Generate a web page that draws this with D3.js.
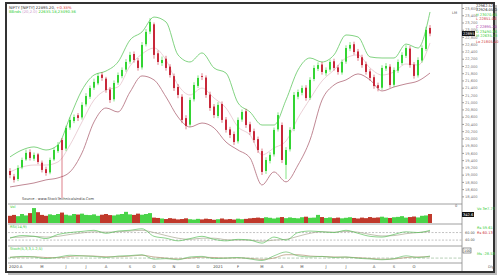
<!DOCTYPE html>
<html>
<head>
<meta charset="utf-8">
<script src="https://cdn.jsdelivr.net/npm/d3@7"></script>
<style>
body { margin: 0; background: #fff; }
text { font-family: "DejaVu Sans", sans-serif; }
</style>
</head>
<body>
<script>
// daily candles (price)
const opens = [19100,18950,18880,19200,19420,19620,19440,19560,19330,19150,
  19060,19420,19650,19955,19720,20300,20480,20640,20580,20940,
  21150,21400,21520,21760,21650,21350,21080,21540,21720,21900,
  22120,22330,22150,21960,22600,22950,23150,22350,22080,22200,
  21980,21720,21420,21150,20560,20380,21080,21450,21720,21680,
  21210,20880,20620,20950,20520,20250,20120,19920,20520,20750,
  20390,20200,19980,19650,19100,19380,19560,20250,20370,19270,
  19700,20260,21150,21260,21400,21120,21640,21920,22040,21800,
  21900,22130,21960,21820,22120,22480,22600,22400,22240,22050,
  21850,21690,21470,21400,21930,21980,21480,21870,22080,22280,
  22480,22040,21740,22150,22470,23050];
const highs = [19180,19020,19260,19470,19690,19700,19610,19600,19390,19220,
  19470,19740,19900,20010,20350,20580,20660,20700,21000,21250,
  21460,21650,21800,21830,21700,21420,21600,21820,21960,22190,
  22390,22400,22220,22660,23020,23320,23200,22430,22260,22280,
  22050,21790,21500,21220,20640,21130,21550,21740,21800,21740,
  21290,20950,21000,21020,20590,20320,20190,20580,20800,20820,
  20460,20270,20050,19720,19480,19620,20300,20720,20440,19760,
  20310,21280,21350,21460,21470,21690,22020,22100,22110,21960,
  22180,22200,22030,22180,22570,22660,22670,22470,22310,22120,
  21920,21760,21540,22020,22080,22050,21960,22180,22380,22570,
  22550,22110,22240,22570,23080,23130];
const lows = [18900,18780,18820,19150,19380,19390,19380,19290,19060,18970,
  19010,19380,19600,18355,19650,20240,20420,20480,20520,20880,
  21090,21340,21470,21590,21260,20980,21020,21480,21660,21840,
  22060,22090,21870,21900,22540,22880,22200,22030,22000,21870,
  21680,21310,21110,20420,20250,20320,21020,21390,21610,21120,
  20760,20560,20560,20430,20160,20010,19820,19860,20460,20290,
  20100,19880,19600,18990,19020,19310,19500,20190,19320,18880,
  19640,20200,21080,21190,21040,21060,21580,21860,21760,21730,
  21840,21870,21760,21760,22060,22410,22310,22140,21950,21760,
  21590,21370,21300,21340,21860,21400,21420,21810,22020,22220,
  21950,21650,21680,22090,22410,22820];
const closes = [18990,18855,19185,19405,19600,19460,19545,19350,19130,19045,
  19405,19680,19820,19680,20290,20510,20590,20565,20925,21170,
  21390,21560,21725,21670,21335,21060,21530,21750,21890,22110,
  22305,22165,21945,22580,22940,23215,22305,22110,22165,21945,
  21750,21390,21200,20510,20345,21060,21475,21670,21695,21200,
  20840,20645,20925,20510,20235,20095,19900,20510,20730,20370,
  20180,19955,19680,19075,19405,19545,20235,20645,19405,19680,
  20235,21200,21280,21390,21115,21615,21945,22025,21835,21890,
  22110,21945,21835,22110,22495,22580,22385,22220,22025,21835,
  21670,21445,21390,21945,22000,21475,21890,22110,22305,22495,
  22025,21725,22165,22495,22995,22895];
const volumes = [40,45,38,50,42,55,83,60,45,40,48,44,50,58,46,42,50,47,52,45,
  44,48,40,46,50,44,42,47,50,62,48,45,52,46,50,55,
  30,28,25,22,27,24,20,22,26,21,19,23,20,24,22,18,21,25,20,22,19,24,21,23,
  26,28,30,27,32,29,25,30,33,27,31,28,26,32,35,29,30,45,33,28,
  31,27,30,26,29,32,28,25,30,27,33,29,31,35,30,28,32,34,38,30,33,36,31,40,42,50];

// indicators, read every third candle
const upperBand = [19490,19680,19765,19680,19820,20590,21335,21750,21860,22110,
  22715,22940,23350,23215,22305,22110,22360,21945,21805,20980,
  20730,20370,20370,21060,21890,22220,22110,22305,22855,22800,
  22250,22220,22220,22605,22495,23490];
const midBand = [19075,19210,19265,19265,19350,19820,20455,21060,21335,21420,
  22000,22330,22495,22165,21475,21200,21390,21115,20840,20315,
  20095,19545,19735,19930,20565,21090,21585,21890,22220,22305,
  21945,21750,21835,22055,22025,22635];
const lowerBand = [18660,18715,18770,18855,18910,19075,19600,20455,20840,20730,
  21280,21725,21615,21145,20590,20315,20425,20290,19900,19680,
  19460,18715,19075,18800,19265,19955,21060,21475,21615,21780,
  21615,21310,21420,21505,21585,21805];
const rsi = [45,52,50,44,55,60,63,66,58,64,66,70,50,45,38,44,50,42,38,42,
  40,32,48,40,60,64,62,60,66,58,50,48,55,62,60,66];
const rsiSignal = [47,48,50,48,50,55,59,62,61,62,64,66,60,52,45,42,45,45,41,40,
  40,37,40,42,50,58,62,61,63,61,55,51,52,57,60,63];
const osc = [5,15,10,-5,8,25,20,15,5,18,22,30,-10,-5,-15,10,15,-5,0,5,
  -8,-22,20,55,20,10,15,5,10,-2,-8,-15,-5,20,5,18];
const oscSignal = [8,10,12,5,3,15,20,18,12,12,18,25,10,0,-8,0,8,5,0,2,
  -2,-12,0,30,30,18,14,10,8,4,-3,-10,-8,5,10,12];

const priceTicks = [18400,18600,18800,19000,19200,19400,19600,19800,20000,20200,
  20400,20600,20800,21000,21200,21400,21600,21800,22000,22200,
  22400,22600,22800,23000,23200,23400,23600];
const monthLabels = ["2020 A","M","J","J","A","S","O","N","D","2021","F","M","A","M","J","J","A","S","O"];
const monthIdx = [0,8,14,19,24,30,36,41,47,52,57,63,68,73,79,84,91,96,101];

const legendLines = [
  ["22962.52", "#222"], ["22926.05 O", "#222"], ["H 23070.05", "#3c3"],
  ["L 22851.06", "#c33"], ["C 22895.20", "#a3a"], ["U 23490.36", "#3c3"],
  ["M 22635.18", "#3c3"], ["Lo 21805.40", "#c33"]
];

const W = 500, H = 280;
const plotL = 8, plotR = 462;
const mainBot = 204, volBot = 224, rsiBot = 246, oscBot = 263;
const N = closes.length;
const green = "#33d433", red = "#c8283a";

const svg = d3.select("body").append("svg")
  .attr("width", W)
  .attr("height", H);

// frame with shadow
svg.append("rect").attr("x", 8).attr("y", 5).attr("width", 489).attr("height", 270)
  .attr("fill", "#bbb");
svg.append("rect").attr("x", 6).attr("y", 3).attr("width", 488).attr("height", 269)
  .attr("fill", "#fff").attr("stroke", "#333").attr("stroke-width", 2);

// scales
const x = d3.scaleBand().domain(d3.range(N)).range([plotL, plotL + N * 4]);
const cx = i => x(i) + x.bandwidth() / 2;
const y = d3.scaleLinear().domain([18300, 23600]).range([200, 8]);
const yVol = d3.scaleLinear().domain([0, 100]).range([223, 205]);
const yRsi = d3.scaleLinear().domain([27, 80]).range([245, 225]);
const yOsc = d3.scaleLinear().domain([-35, 90]).range([262, 248]);
const sIdx = d3.range(0, N, 3);

// panel separators and right axis
[mainBot, volBot, rsiBot, oscBot].forEach(v => {
  svg.append("line").attr("x1", plotL).attr("x2", plotR).attr("y1", v).attr("y2", v)
    .attr("stroke", "#888").attr("stroke-width", 0.8);
});
svg.append("line").attr("x1", plotR).attr("x2", plotR).attr("y1", 4).attr("y2", 271)
  .attr("stroke", "#888").attr("stroke-width", 0.8);

// price axis
const yAxis = svg.append("g").attr("transform", `translate(${plotR},0)`)
  .call(d3.axisRight(y).tickValues(priceTicks).tickSize(2).tickPadding(1));
yAxis.select(".domain").remove();
yAxis.selectAll("line").attr("stroke", "#999");
yAxis.selectAll("text").attr("font-size", 3.6).attr("fill", "#777");

// bands
const bandLine = data => d3.line()
  .x((d, k) => cx(sIdx[k]))
  .y(d => y(d))
  .curve(d3.curveMonotoneX)(data);
svg.append("path").attr("d", bandLine(midBand)).attr("fill", "none")
  .attr("stroke", "#e4c4cb").attr("stroke-width", 0.8);
svg.append("path").attr("d", bandLine(upperBand)).attr("fill", "none")
  .attr("stroke", "#62c862").attr("stroke-width", 0.8);
svg.append("path").attr("d", bandLine(lowerBand)).attr("fill", "none")
  .attr("stroke", "#b06a78").attr("stroke-width", 0.8);

// candles
const candles = svg.append("g").selectAll("g")
  .data(d3.range(N))
  .enter().append("g");
candles.append("line")
  .attr("x1", i => cx(i)).attr("x2", i => cx(i))
  .attr("y1", i => y(highs[i])).attr("y2", i => y(lows[i]))
  .attr("stroke", i => closes[i] >= opens[i] ? green : red)
  .attr("stroke-width", 0.6);
candles.append("rect")
  .attr("x", i => cx(i) - 1)
  .attr("width", 2)
  .attr("y", i => y(Math.max(opens[i], closes[i])))
  .attr("height", i => Math.max(0.8, Math.abs(y(opens[i]) - y(closes[i]))))
  .attr("fill", i => closes[i] >= opens[i] ? green : red);

// volume
svg.append("g").selectAll("rect")
  .data(volumes)
  .enter().append("rect")
  .attr("x", (d, i) => x(i))
  .attr("width", x.bandwidth())
  .attr("y", d => yVol(d))
  .attr("height", d => yVol(0) - yVol(d))
  .attr("fill", (d, i) => closes[i] >= opens[i] ? "#49d449" : "#c0392b");

// rsi
[60, 40].forEach(v => {
  svg.append("line").attr("x1", plotL).attr("x2", plotR).attr("y1", yRsi(v)).attr("y2", yRsi(v))
    .attr("stroke", "#999").attr("stroke-width", 0.6).attr("stroke-dasharray", "2,1.5");
});
const ind = (data, sc) => d3.line()
  .x((d, k) => cx(sIdx[k]))
  .y(d => sc(d))
  .curve(d3.curveMonotoneX)(data);
svg.append("path").attr("d", ind(rsiSignal, yRsi)).attr("fill", "none")
  .attr("stroke", "#a8a890").attr("stroke-width", 0.7);
svg.append("path").attr("d", ind(rsi, yRsi)).attr("fill", "none")
  .attr("stroke", "#5cc05c").attr("stroke-width", 0.7);

// oscillator
svg.append("line").attr("x1", plotL).attr("x2", plotR).attr("y1", yOsc(0)).attr("y2", yOsc(0))
  .attr("stroke", "#8ab08a").attr("stroke-width", 0.6).attr("stroke-dasharray", "3,1.5");
svg.append("path").attr("d", ind(oscSignal, yOsc)).attr("fill", "none")
  .attr("stroke", "#b09070").attr("stroke-width", 0.7);
svg.append("path").attr("d", ind(osc, yOsc)).attr("fill", "none")
  .attr("stroke", "#6cc06c").attr("stroke-width", 0.7);

// month labels
svg.append("g").selectAll("text")
  .data(monthLabels)
  .enter().append("text")
  .attr("x", (d, k) => k === 0 ? plotL + 1 : cx(monthIdx[k]))
  .attr("y", 267.5)
  .attr("text-anchor", (d, k) => k === 0 ? "start" : "middle")
  .attr("font-size", 3.8).attr("fill", "#444")
  .text(d => d);

// texts
const txt = (tx, ty, s, col, size, anchor) => svg.append("text")
  .attr("x", tx).attr("y", ty).attr("font-size", size || 3.8)
  .attr("fill", col || "#333").attr("text-anchor", anchor || "start").text(s);

const t1 = svg.append("text").attr("x", 9).attr("y", 8.5).attr("font-size", 3.8);
t1.append("tspan").attr("fill", "#333").text("NIFTY [NIFTY] 22895.20,  ");
t1.append("tspan").attr("fill", "#d33").text("+0.33%");
const t2 = svg.append("text").attr("x", 9).attr("y", 13).attr("font-size", 3.8);
t2.append("tspan").attr("fill", "#3c3").text("BBnds ");
t2.append("tspan").attr("fill", "#c9c").text("(20,2.0) ");
t2.append("tspan").attr("fill", "#3c3").text("22635.18,23490.36");

txt(22, 200, "Source : www.StockTechnicalsIndia.Com", "#444", 3.6);
txt(10, 208, "Vol", "#3c3", 3.6);
txt(10, 228, "RSI(14,9)", "#3c3", 3.6);
txt(10, 250, "Stoch(5,3,3,1.2,5)", "#3c3", 3.6);

txt(452, 13.5, "LM", "#555", 3.6);
txt(455, 207, "0", "#555", 3.6);

// current price box
svg.append("rect").attr("x", 462).attr("y", y(22895) - 2.5).attr("width", 13).attr("height", 5)
  .attr("fill", "#111");
txt(463, y(22895) + 1.4, "22895", "#fff", 3.6);
// volume box
svg.append("rect").attr("x", 462).attr("y", 212).attr("width", 12).attr("height", 5).attr("fill", "#111");
txt(463, 215.9, "342.6", "#fff", 3.6);
svg.append("rect").attr("x", 463).attr("y", 248).attr("width", 8).attr("height", 5)
  .attr("fill", "#fff").attr("stroke", "#333").attr("stroke-width", 0.5);
txt(464, 251.8, "100", "#333", 3.4);
txt(465, yRsi(60) + 1.3, "60.00", "#555", 3.4);
txt(465, yRsi(40) + 1.3, "40.00", "#555", 3.4);

// right legend
legendLines.forEach((l, k) => {
  txt(476, [7, 11, 16, 20, 28, 33, 37, 43][k], l[0], l[1], 3.6);
});
txt(477, 210, "Vo 3e7.77", "#3c3", 3.6);
txt(477, 229, "Rs 59.61", "#3c3", 3.6);
txt(477, 234, "Rs 60.13", "#c33", 3.6);
txt(477, 255, "Ms -28.53", "#3c3", 3.6);
txt(488, 268, "Dly", "#555", 3.6);
</script>
</body>
</html>
